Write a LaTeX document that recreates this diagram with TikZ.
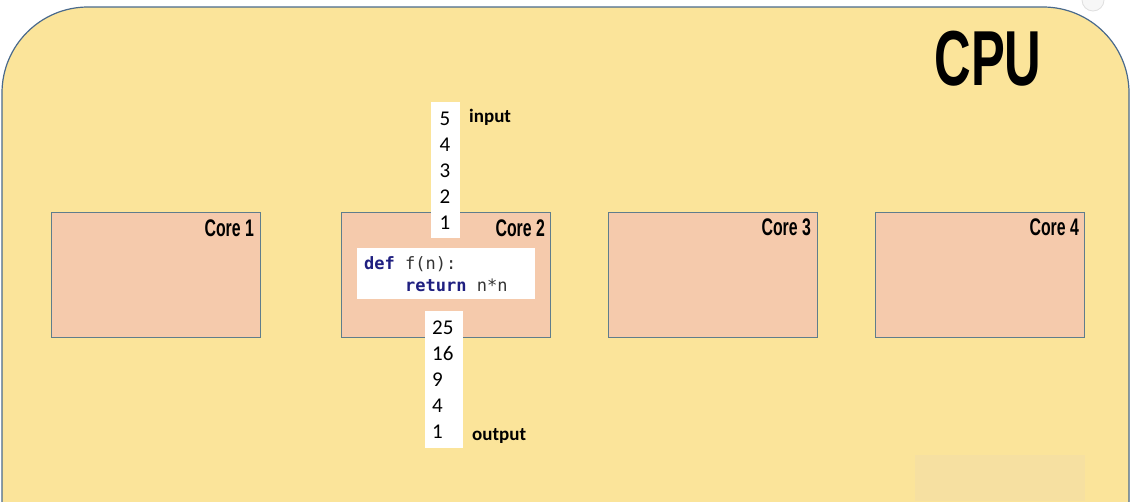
\documentclass[tikz,border=0pt]{standalone}
\usepackage{fontspec}
\setmainfont{Carlito}
\newfontfamily\condfont{Liberation Sans}
\newfontfamily\codefont{DejaVu Sans Mono}
\definecolor{cpufill}{HTML}{FBE49A}
\definecolor{cpuline}{HTML}{4A6A8C}
\definecolor{corefill}{HTML}{F5CAAC}
\definecolor{coreline}{HTML}{5F7D8C}
\definecolor{kw}{HTML}{1F1F80}
\definecolor{codegrey}{HTML}{333333}
\begin{document}
\begin{tikzpicture}[x=1pt,y=-1pt,
  cpu/.style={draw=cpuline,line width=1.2pt,fill=cpufill,rounded corners=86pt},
  corebox/.style={draw=coreline,line width=1pt,fill=corefill,minimum width=209pt,minimum height=125pt,inner sep=0pt},
  corelabel/.style={anchor=north east,inner sep=0pt,font=\condfont\bfseries\fontsize{24}{24}\selectfont,xscale=0.66},
  column/.style={fill=white,inner sep=0pt},
  nums/.style={inner sep=0pt,align=left,anchor=north west,font=\fontsize{21}{26}\selectfont},
  tag/.style={inner sep=0pt,anchor=west,font=\bfseries\fontsize{19}{19}\selectfont},
  codebox/.style={fill=white,minimum width=178pt,minimum height=51pt,inner sep=0pt}
]
\useasboundingbox (0,0) rectangle (1131,501);
\clip (0,0) rectangle (1131,501);
\fill[white] (0,0) rectangle (1131,501);
\draw[cpu] (2,7) rectangle (1129,590);
\fill[gray!6] (1093,0) circle (11pt);
\draw[gray!25,line width=0.8pt] (1093,0) circle (11pt);
\fill[color={rgb,255:red,240;green,220;blue,172},opacity=0.4] (915,455) rectangle (1085,501);
\node[inner sep=0pt,anchor=north,font=\condfont\bfseries\fontsize{78}{78}\selectfont,xscale=0.65] (cpulabel) at (988,31) {CPU};
% cores
\node[corebox] (core1) at (156,274.5) {};
\node[corebox] (core2) at (445.5,274.5) {};
\node[corebox] (core3) at (712.5,274.5) {};
\node[corebox] (core4) at (979.5,274.5) {};
\node[corelabel] (l1) at (254,220) {Core 1};
\node[corelabel] (l2) at (545,220) {Core 2};
\node[corelabel] (l3) at (811,219) {Core 3};
\node[corelabel] (l4) at (1079,219) {Core 4};
% input column
\node[column,minimum width=29pt,minimum height=136pt] (incol) at (445.5,170) {};
\node[nums] (innums) at (439.5,111.5) {5\\4\\3\\2\\1};
\node[tag] (intag) at (469,117) {input};
% code
\node[codebox] (code) at (446,273.5) {};
\node[inner sep=0pt,anchor=west,font=\codefont\fontsize{17}{22}\selectfont,align=left] (codetext) at (364,274) {\textcolor{kw}{\bfseries def} \textcolor{codegrey}{f(n):}\\\textcolor{kw}{\bfseries\ \ \ \ return} \textcolor{codegrey}{n*n}};
% output column
\node[column,minimum width=38pt,minimum height=137pt] (outcol) at (444,379.5) {};
\node[nums] (outnums) at (432,320.5) {25\\16\\9\\4\\1};
\node[tag] (outtag) at (472,436) {output};
\end{tikzpicture}
\end{document}
